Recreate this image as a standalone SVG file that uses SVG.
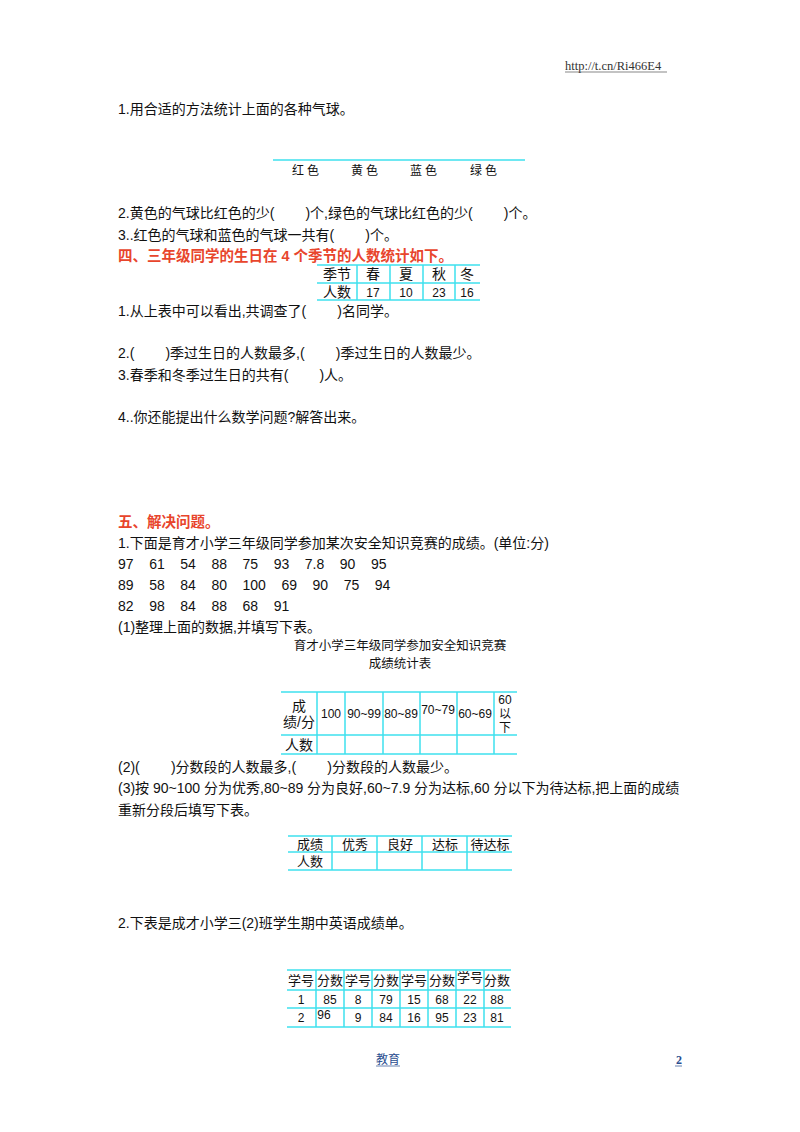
<svg xmlns="http://www.w3.org/2000/svg" width="800" height="1132" viewBox="0 0 800 1132">
<style>
text{font-family:"Liberation Sans","Noto Sans CJK SC",sans-serif;font-size:14px;fill:#111}
.r{fill:#e8452c;font-size:14.5px;font-weight:bold}
.c{text-anchor:middle}
.g{stroke:#3ee0ee;stroke-width:1.5;fill:none}
.s{font-size:12px}
.t{font-size:13px}
.n{white-space:pre}
</style>
<rect width="800" height="1132" fill="#fff"/>
<g id="header"><text x="565" y="70" style="font-family:'Liberation Serif',serif;font-size:12.5px;fill:#333">http://t.cn/Ri466E4</text><line x1="565" y1="72" x2="667" y2="72" stroke="#555" stroke-width="0.7"/></g>
<g id="q1">
<text x="118" y="114">1.用合适的方法统计上面的各种气球。</text>
<line x1="273" y1="160" x2="525" y2="160" class="g"/>
<text x="307" y="175" class="c s" style="letter-spacing:3px">红色</text><text x="366" y="175" class="c s" style="letter-spacing:3px">黄色</text><text x="425" y="175" class="c s" style="letter-spacing:3px">蓝色</text><text x="485" y="175" class="c s" style="letter-spacing:3px">绿色</text>
<text x="118" y="218" xml:space="preserve">2.黄色的气球比红色的少(        )个,绿色的气球比红色的少(        )个。</text>
<text x="118" y="240" xml:space="preserve">3..红色的气球和蓝色的气球一共有(        )个。</text>
</g>
<g id="s4">
<text x="118" y="261" class="r">四、三年级同学的生日在 4 个季节的人数统计如下。</text>
<g class="g"><line x1="317" y1="265" x2="480" y2="265"/><line x1="317" y1="283" x2="480" y2="283"/><line x1="317" y1="300" x2="480" y2="300"/>
<line x1="357" y1="265" x2="357" y2="300"/><line x1="390" y1="265" x2="390" y2="300"/><line x1="423" y1="265" x2="423" y2="300"/><line x1="455" y1="265" x2="455" y2="300"/></g>
<text x="337" y="279" class="c">季节</text><text x="373" y="279" class="c">春</text><text x="406" y="279" class="c">夏</text><text x="439" y="279" class="c">秋</text><text x="467" y="279" class="c">冬</text>
<text x="337" y="297" class="c">人数</text><text x="373" y="297" class="c s">17</text><text x="406" y="297" class="c s">10</text><text x="439" y="297" class="c s">23</text><text x="467" y="297" class="c s">16</text>
<text x="118" y="316" xml:space="preserve">1.从上表中可以看出,共调查了(        )名同学。</text>
<text x="118" y="358" xml:space="preserve">2.(        )季过生日的人数最多,(        )季过生日的人数最少。</text>
<text x="118" y="380" xml:space="preserve">3.春季和冬季过生日的共有(        )人。</text>
<text x="118" y="422">4..你还能提出什么数学问题?解答出来。</text>
</g>
<g id="s5">
<text x="118" y="527" class="r">五、解决问题。</text>
<text x="118" y="548">1.下面是育才小学三年级同学参加某次安全知识竞赛的成绩。(单位:分)</text>
<text x="118" y="569" class="n" xml:space="preserve">97    61    54    88    75    93    7.8    90    95</text>
<text x="118" y="590" class="n" xml:space="preserve">89    58    84    80    100    69    90    75    94</text>
<text x="118" y="611" class="n" xml:space="preserve">82    98    84    88    68    91</text>
<text x="118" y="632">(1)整理上面的数据,并填写下表。</text>
<text x="400" y="650" class="c" style="font-size:12.5px">育才小学三年级同学参加安全知识竞赛</text>
<text x="400" y="668" class="c" style="font-size:12.5px">成绩统计表</text>
<g class="g"><line x1="281" y1="692" x2="517" y2="692"/><line x1="281" y1="735" x2="517" y2="735"/><line x1="281" y1="754" x2="517" y2="754"/>
<line x1="317" y1="692" x2="317" y2="754"/><line x1="345" y1="692" x2="345" y2="754"/><line x1="383" y1="692" x2="383" y2="754"/><line x1="420" y1="692" x2="420" y2="754"/><line x1="457" y1="692" x2="457" y2="754"/><line x1="494" y1="692" x2="494" y2="754"/></g>
<text x="299" y="711" class="c">成</text><text x="299" y="727" class="c">绩/分</text>
<text x="331" y="718" class="c s">100</text><text x="364" y="718" class="c s">90~99</text><text x="401" y="718" class="c s">80~89</text><text x="438" y="714" class="c s">70~79</text><text x="475" y="718" class="c s">60~69</text>
<text x="505" y="704" class="c s">60</text><text x="505" y="718" class="c s">以</text><text x="505" y="732" class="c s">下</text>
<text x="299" y="750" class="c">人数</text>
<text x="118" y="772" xml:space="preserve">(2)(        )分数段的人数最多,(        )分数段的人数最少。</text>
<text x="118" y="793">(3)按 90~100 分为优秀,80~89 分为良好,60~7.9 分为达标,60 分以下为待达标,把上面的成绩</text>
<text x="118" y="815">重新分段后填写下表。</text>
<g class="g"><line x1="288" y1="836" x2="512" y2="836"/><line x1="288" y1="852" x2="512" y2="852"/><line x1="288" y1="870" x2="512" y2="870"/>
<line x1="332" y1="836" x2="332" y2="870"/><line x1="377" y1="836" x2="377" y2="870"/><line x1="422" y1="836" x2="422" y2="870"/><line x1="467" y1="836" x2="467" y2="870"/></g>
<text x="310" y="849" class="c t">成绩</text><text x="355" y="849" class="c t">优秀</text><text x="400" y="849" class="c t">良好</text><text x="445" y="849" class="c t">达标</text><text x="490" y="849" class="c t">待达标</text>
<text x="310" y="866" class="c t">人数</text>
<text x="118" y="928">2.下表是成才小学三(2)班学生期中英语成绩单。</text>
<g class="g"><line x1="287" y1="970" x2="511" y2="970"/><line x1="287" y1="990" x2="511" y2="990"/><line x1="287" y1="1008" x2="511" y2="1008"/><line x1="287" y1="1027" x2="511" y2="1027"/>
<line x1="316" y1="970" x2="316" y2="1027"/><line x1="344" y1="970" x2="344" y2="1027"/><line x1="372" y1="970" x2="372" y2="1027"/><line x1="400" y1="970" x2="400" y2="1027"/><line x1="428" y1="970" x2="428" y2="1027"/><line x1="456" y1="970" x2="456" y2="1027"/><line x1="484" y1="970" x2="484" y2="1027"/></g>
<text x="301" y="985" class="c t">学号</text><text x="330" y="985" class="c t">分数</text><text x="358" y="985" class="c t">学号</text><text x="386" y="985" class="c t">分数</text><text x="414" y="985" class="c t">学号</text><text x="442" y="985" class="c t">分数</text><text x="470" y="982" class="c t">学号</text><text x="497" y="985" class="c t">分数</text>
<text x="301" y="1004" class="c s">1</text><text x="330" y="1004" class="c s">85</text><text x="358" y="1004" class="c s">8</text><text x="386" y="1004" class="c s">79</text><text x="414" y="1004" class="c s">15</text><text x="442" y="1004" class="c s">68</text><text x="470" y="1004" class="c s">22</text><text x="497" y="1004" class="c s">88</text>
<text x="301" y="1022" class="c s">2</text><text x="324" y="1019" class="c s">96</text><text x="358" y="1022" class="c s">9</text><text x="386" y="1022" class="c s">84</text><text x="414" y="1022" class="c s">16</text><text x="442" y="1022" class="c s">95</text><text x="470" y="1022" class="c s">23</text><text x="497" y="1022" class="c s">81</text>
</g>
<g id="footer"><text x="388" y="1064" class="c s" style="fill:#2a4d8f">教育</text><line x1="376" y1="1066" x2="400" y2="1066" stroke="#2a4d8f" stroke-width="0.7"/>
<text x="676" y="1064" class="s" style="font-family:'Liberation Serif',serif;fill:#2a4d8f;font-weight:bold">2</text><line x1="675" y1="1066" x2="682" y2="1066" stroke="#2a4d8f" stroke-width="0.7"/></g>
</svg>
